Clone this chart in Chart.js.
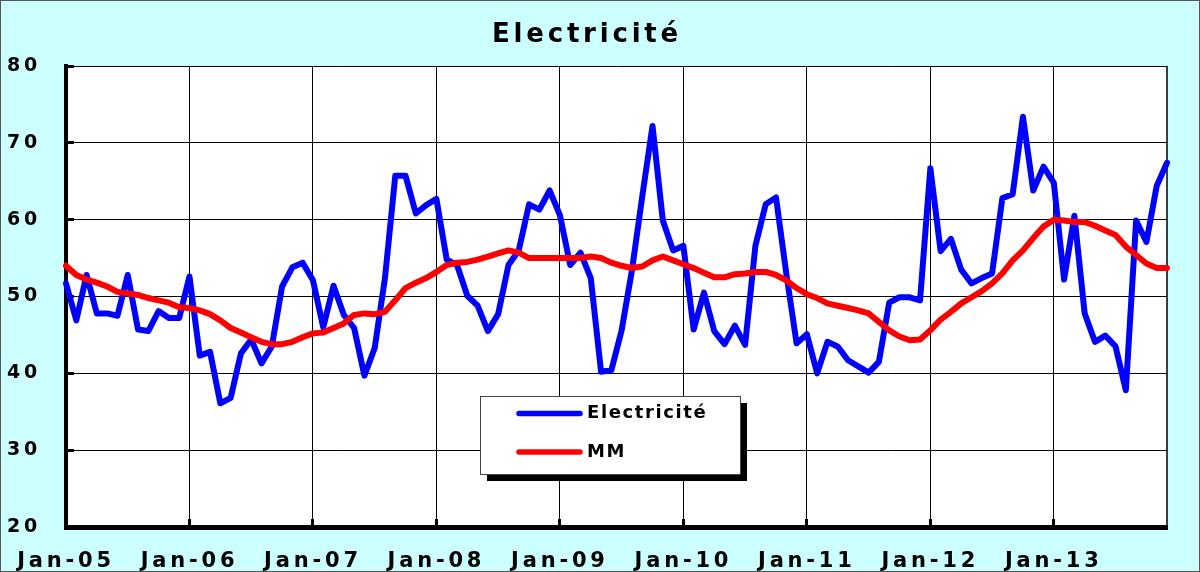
<!DOCTYPE html>
<html lang="fr">
<head>
<meta charset="utf-8">
<title>Electricité</title>
<script src="https://cdn.jsdelivr.net/npm/chart.js@4.4.1/dist/chart.umd.min.js"></script>
<style>
  html, body { margin: 0; padding: 0; background: #ccffff; }
  canvas { display: block; }
</style>
</head>
<body>
<canvas id="chart" width="1200" height="572"></canvas>
<script>
// ---------------------------------------------------------------------------
// Data: monthly values, Jan-05 .. Dec-13
// ---------------------------------------------------------------------------

const MONTHS = ["Jan", "Feb", "Mar", "Apr", "May", "Jun", "Jul", "Aug", "Sep", "Oct", "Nov", "Dec"];
const YEARS = ["05", "06", "07", "08", "09", "10", "11", "12", "13"];
const LABELS = YEARS.flatMap(y => MONTHS.map(m => `${m}-${y}`));

const ELECTRICITE = [
  51.7, 46.9, 52.8, 47.8, 47.8, 47.5, 52.8, 45.7, 45.5, 48.1, 47.2, 47.2, // 2005
  52.6, 42.3, 42.8, 36.1, 36.8, 42.6, 44.4, 41.3, 43.5, 51.3, 53.8, 54.4, // 2006
  52.1, 46.0, 51.4, 47.6, 45.9, 39.7, 43.3, 52.4, 65.7, 65.7, 60.8, 61.9, // 2007
  62.7, 54.8, 54.1, 50.1, 48.8, 45.5, 47.7, 54.1, 56.0, 62.0, 61.3, 63.8, // 2008
  60.6, 54.1, 55.7, 52.4, 40.2, 40.4, 45.6, 53.4, 63.0, 72.2, 59.9, 56.0, // 2009
  56.6, 45.7, 50.5, 45.5, 43.8, 46.2, 43.7, 56.6, 62.0, 62.9, 53.0, 43.9, // 2010
  45.1, 40.0, 44.1, 43.5, 41.7, 40.9, 40.1, 41.5, 49.2, 49.9, 49.9, 49.5, // 2011
  66.7, 55.9, 57.5, 53.5, 51.7, 52.4, 53.0, 62.8, 63.3, 73.4, 63.8, 66.9, // 2012
  64.8, 52.2, 60.5, 47.8, 44.1, 44.9, 43.5, 37.8, 59.9, 57.1, 64.4, 67.4, // 2013
];

// moving average ("MM")
const MM = [
  54.0, 52.8, 52.2, 51.8, 51.3, 50.6, 50.4, 50.2, 49.8, 49.5, 49.2, 48.6,
  48.5, 48.2, 47.7, 46.9, 45.9, 45.3, 44.7, 44.1, 43.8, 43.8, 44.1, 44.7,
  45.2, 45.3, 45.9, 46.5, 47.6, 47.8, 47.7, 48.0, 49.5, 51.1, 51.8, 52.4,
  53.2, 54.1, 54.4, 54.5, 54.8, 55.2, 55.6, 56.0, 55.7, 55.0, 55.0, 55.0,
  55.0, 55.0, 55.0, 55.2, 55.0, 54.4, 54.0, 53.7, 53.9, 54.7, 55.2, 54.7,
  54.2, 53.7, 53.1, 52.5, 52.5, 52.9, 53.0, 53.2, 53.2, 52.8, 52.1, 51.1,
  50.3, 49.8, 49.1, 48.8, 48.5, 48.2, 47.8, 46.7, 45.6, 44.8, 44.3, 44.4,
  45.6, 47.0, 48.0, 49.1, 49.9, 50.7, 51.7, 53.0, 54.7, 56.0, 57.6, 59.1,
  60.0, 59.9, 59.7, 59.7, 59.2, 58.6, 58.0, 56.5, 55.4, 54.3, 53.7, 53.7,
];

const Y_MIN = 20;
const Y_MAX = 80;
const Y_STEP = 10;

// ---------------------------------------------------------------------------
// Look
// ---------------------------------------------------------------------------

const FONT = "'DejaVu Sans', 'Liberation Sans', sans-serif";
const BG = "#ccffff";
const WIDE_SPACING = "3.8px";   // the original text is very wide
const LEGEND_SPACING = "1.6px";

// background, white plot area, outer frame, right edge of the plot
const framePlugin = {
  id: "frame",
  beforeUpdate(chart) { chart.ctx.letterSpacing = WIDE_SPACING; },
  beforeDraw(chart) {
    const { ctx, width, height, chartArea: a } = chart;
    ctx.save();
    ctx.fillStyle = BG;
    ctx.fillRect(0, 0, width, height);
    ctx.strokeStyle = "#555";
    ctx.lineWidth = 1;
    ctx.strokeRect(0.5, 0.5, width - 1, height - 1);
    ctx.fillStyle = "#fff";
    ctx.fillRect(a.left, a.top, a.right - a.left, a.bottom - a.top);
    ctx.restore();
    ctx.letterSpacing = WIDE_SPACING;
  },
  beforeDatasetsDraw(chart) {
    const { ctx, chartArea: a } = chart;
    ctx.save();
    ctx.strokeStyle = "#000";
    ctx.lineWidth = 1.5;
    ctx.beginPath();
    ctx.moveTo(a.right, a.top);
    ctx.lineTo(a.right, a.bottom);
    ctx.stroke();
    ctx.restore();
  },
};

// boxed legend with a drop shadow, sitting inside the plot like the original
const boxLegendPlugin = {
  id: "boxLegend",
  afterDraw(chart) {
    const { ctx } = chart;
    const box = { x: 480, y: 396, w: 260, h: 78 };
    ctx.save();
    ctx.letterSpacing = LEGEND_SPACING;
    ctx.fillStyle = "#000";
    ctx.fillRect(box.x + 7, box.y + 7, box.w, box.h);
    ctx.fillStyle = "#fff";
    ctx.fillRect(box.x, box.y, box.w, box.h);
    ctx.strokeStyle = "#444";
    ctx.lineWidth = 1;
    ctx.strokeRect(box.x + 0.5, box.y + 0.5, box.w, box.h);

    ctx.font = `bold 18px ${FONT}`;
    ctx.textBaseline = "middle";
    ctx.textAlign = "left";
    chart.data.datasets.forEach((ds, i) => {
      const y = 413.5 + i * 38.5;
      ctx.strokeStyle = ds.borderColor;
      ctx.lineWidth = 5.5;
      ctx.lineCap = "round";
      ctx.beginPath();
      ctx.moveTo(519, y);
      ctx.lineTo(580, y);
      ctx.stroke();
      ctx.fillStyle = "#000";
      ctx.fillText(ds.label, 587, y);
    });
    ctx.restore();
  },
};

// ---------------------------------------------------------------------------
// Chart
// ---------------------------------------------------------------------------

new Chart(document.getElementById("chart"), {
  type: "line",
  data: {
    labels: LABELS,
    datasets: [
      {
        label: "Electricité",
        data: ELECTRICITE,
        borderColor: "#0000ff",
        borderWidth: 6,
        order: 2,
      },
      {
        label: "MM",
        data: MM,
        borderColor: "#ff0000",
        borderWidth: 6,
        order: 1,
      },
    ],
  },
  options: {
    responsive: false,
    animation: false,
    devicePixelRatio: 1,
    layout: { autoPadding: false, padding: { left: 7, right: 33, top: 0, bottom: 0 } },
    elements: {
      point: { radius: 0, hoverRadius: 0 },
      line: { tension: 0, borderCapStyle: "round", borderJoinStyle: "round", fill: false },
    },
    plugins: {
      legend: { display: false },
      tooltip: { enabled: false },
      title: {
        display: true,
        text: "Electricité",
        color: "#000",
        font: { family: FONT, size: 26, weight: "bold", lineHeight: 1.2 },
        padding: { top: 20, bottom: 14.8 },
      },
    },
    scales: {
      x: {
        type: "category",
        offset: false,
        afterFit: (scale) => {
          scale.height = 45;
          // the first label may hang over the y axis, as in the original
          scale.paddingLeft = 0;
          scale.paddingRight = 0;
        },
        grid: { color: "#000", lineWidth: 1, tickLength: -8, tickWidth: 3, tickColor: "#000" },
        border: { display: true, color: "#000", width: 5 },
        ticks: {
          autoSkip: false,
          maxRotation: 0,
          minRotation: 0,
          padding: 30,
          color: "#000",
          font: { family: FONT, size: 21, weight: "bold", lineHeight: 1.2 },
          callback: (value, index) => (index % 12 === 0 ? LABELS[index] : null),
        },
      },
      y: {
        min: Y_MIN,
        max: Y_MAX,
        afterFit: (scale) => { scale.width = 59; },
        grid: { color: "#000", lineWidth: 1, tickLength: -8, tickWidth: 3, tickColor: "#000" },
        border: { display: true, color: "#000", width: 4 },
        ticks: {
          stepSize: Y_STEP,
          crossAlign: "far",
          padding: 4,
          color: "#000",
          font: { family: FONT, size: 19, weight: "bold", lineHeight: 1.2 },
        },
      },
    },
  },
  plugins: [framePlugin, boxLegendPlugin],
});
</script>
</body>
</html>
